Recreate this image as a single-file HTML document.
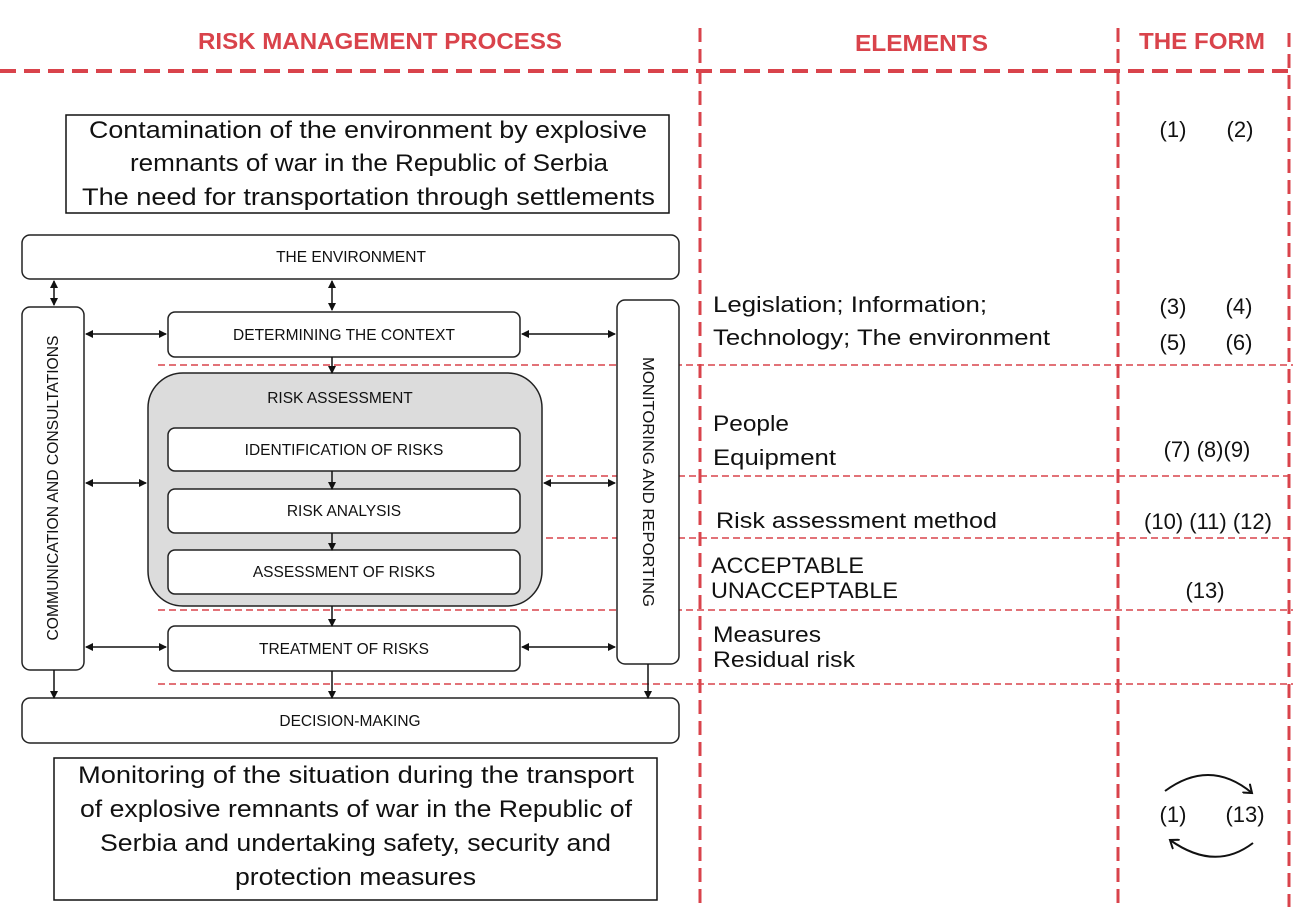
<!DOCTYPE html>
<html><head><meta charset="utf-8"><style>
html,body{margin:0;padding:0;background:#fff;}
svg{display:block;}
.r{fill:#d9434b;font-family:"Liberation Sans",sans-serif;font-weight:bold;font-size:23px;}
.b{fill:#111;font-family:"Liberation Sans",sans-serif;font-size:24px;}
.s{fill:#111;font-family:"Liberation Sans",sans-serif;font-size:15.5px;}
.e{fill:#111;font-family:"Liberation Sans",sans-serif;font-size:22px;}
</style></head><body>
<svg width="1293" height="907" viewBox="0 0 1293 907" xmlns="http://www.w3.org/2000/svg">
<defs>
<marker id="a" markerWidth="8" markerHeight="8" refX="7" refY="4" orient="auto" markerUnits="userSpaceOnUse"><path d="M0,0 L8,4 L0,8 z" fill="#111"/></marker>
<marker id="s" markerWidth="8" markerHeight="8" refX="1" refY="4" orient="auto" markerUnits="userSpaceOnUse"><path d="M8,0 L0,4 L8,8 z" fill="#111"/></marker>
<marker id="c" markerWidth="12" markerHeight="12" refX="8" refY="6" orient="auto" markerUnits="userSpaceOnUse"><path d="M0,0 L8,6 L0,12" fill="none" stroke="#111" stroke-width="2"/></marker>
</defs>
<text class="r" x="198" y="49" textLength="364" lengthAdjust="spacingAndGlyphs">RISK MANAGEMENT PROCESS</text>
<text class="r" x="855" y="51" textLength="133" lengthAdjust="spacingAndGlyphs">ELEMENTS</text>
<text class="r" x="1139" y="49" textLength="126" lengthAdjust="spacingAndGlyphs">THE FORM</text>
<g stroke="#d9434b" fill="none">
<line x1="0" y1="71" x2="1293" y2="71" stroke-width="4" stroke-dasharray="16,8"/>
<line x1="700" y1="28" x2="700" y2="907" stroke-width="3" stroke-dasharray="14,7"/>
<line x1="1118" y1="28" x2="1118" y2="907" stroke-width="3" stroke-dasharray="14,7"/>
<line x1="1289" y1="33" x2="1289" y2="907" stroke-width="3" stroke-dasharray="14,7"/>
<g stroke-width="1.5" stroke-dasharray="7,4">
<line x1="158" y1="365" x2="1293" y2="365"/>
<line x1="150" y1="476" x2="1293" y2="476"/>
<line x1="150" y1="538" x2="1293" y2="538"/>
<line x1="158" y1="610" x2="1293" y2="610"/>
<line x1="158" y1="684" x2="1293" y2="684"/>
</g>
</g>
<rect x="66" y="115" width="603" height="98" fill="#fff" stroke="#111" stroke-width="1.5"/>
<text class="b" x="89" y="138" textLength="558" lengthAdjust="spacingAndGlyphs">Contamination of the environment by explosive</text>
<text class="b" x="130" y="171" textLength="478" lengthAdjust="spacingAndGlyphs">remnants of war in the Republic of Serbia</text>
<text class="b" x="82" y="205" textLength="573" lengthAdjust="spacingAndGlyphs">The need for transportation through settlements</text>
<g stroke="#222" stroke-width="1.5" fill="#fff">
<rect x="22" y="235" width="657" height="44" rx="8"/>
<rect x="22" y="307" width="62" height="363" rx="8"/>
<rect x="617" y="300" width="62" height="364" rx="8"/>
<rect x="168" y="312" width="352" height="45" rx="7"/>
<rect x="148" y="373" width="394" height="233" rx="35" fill="#dcdcdc"/>
<rect x="168" y="428" width="352" height="43" rx="7"/>
<rect x="168" y="489" width="352" height="44" rx="7"/>
<rect x="168" y="550" width="352" height="44" rx="7"/>
<rect x="168" y="626" width="352" height="45" rx="7"/>
<rect x="22" y="698" width="657" height="45" rx="8"/>
</g>
<g stroke="#111" stroke-width="1.5" fill="none">
<line x1="54" y1="281" x2="54" y2="305" marker-start="url(#s)" marker-end="url(#a)"/>
<line x1="332" y1="281" x2="332" y2="310" marker-start="url(#s)" marker-end="url(#a)"/>
<line x1="86" y1="334" x2="166" y2="334" marker-start="url(#s)" marker-end="url(#a)"/>
<line x1="522" y1="334" x2="615" y2="334" marker-start="url(#s)" marker-end="url(#a)"/>
<line x1="86" y1="483" x2="146" y2="483" marker-start="url(#s)" marker-end="url(#a)"/>
<line x1="544" y1="483" x2="615" y2="483" marker-start="url(#s)" marker-end="url(#a)"/>
<line x1="86" y1="647" x2="166" y2="647" marker-start="url(#s)" marker-end="url(#a)"/>
<line x1="522" y1="647" x2="615" y2="647" marker-start="url(#s)" marker-end="url(#a)"/>
<line x1="332" y1="357" x2="332" y2="373" marker-end="url(#a)"/>
<line x1="332" y1="471" x2="332" y2="489" marker-end="url(#a)"/>
<line x1="332" y1="533" x2="332" y2="550" marker-end="url(#a)"/>
<line x1="332" y1="606" x2="332" y2="626" marker-end="url(#a)"/>
<line x1="332" y1="671" x2="332" y2="698" marker-end="url(#a)"/>
<line x1="54" y1="670" x2="54" y2="698" marker-end="url(#a)"/>
<line x1="648" y1="664" x2="648" y2="698" marker-end="url(#a)"/>
</g>
<text class="s" x="351" y="262" text-anchor="middle">THE ENVIRONMENT</text>
<text class="s" x="344" y="340" text-anchor="middle">DETERMINING THE CONTEXT</text>
<text class="s" x="340" y="403" text-anchor="middle">RISK ASSESSMENT</text>
<text class="s" x="344" y="455" text-anchor="middle">IDENTIFICATION OF RISKS</text>
<text class="s" x="344" y="516" text-anchor="middle">RISK ANALYSIS</text>
<text class="s" x="344" y="577" text-anchor="middle">ASSESSMENT OF RISKS</text>
<text class="s" x="344" y="654" text-anchor="middle">TREATMENT OF RISKS</text>
<text class="s" x="350" y="726" text-anchor="middle">DECISION-MAKING</text>
<text class="s" transform="translate(58,488) rotate(-90)" text-anchor="middle" textLength="305" lengthAdjust="spacingAndGlyphs">COMMUNICATION AND CONSULTATIONS</text>
<text class="s" transform="translate(643,482) rotate(90)" text-anchor="middle" textLength="250" lengthAdjust="spacingAndGlyphs">MONITORING AND REPORTING</text>
<rect x="54" y="758" width="603" height="142" fill="#fff" stroke="#111" stroke-width="1.5"/>
<text class="b" x="78" y="783" textLength="556" lengthAdjust="spacingAndGlyphs">Monitoring of the situation during the transport</text>
<text class="b" x="80" y="817" textLength="552" lengthAdjust="spacingAndGlyphs">of explosive remnants of war in the Republic of</text>
<text class="b" x="100" y="851" textLength="511" lengthAdjust="spacingAndGlyphs">Serbia and undertaking safety, security and</text>
<text class="b" x="235" y="885" textLength="241" lengthAdjust="spacingAndGlyphs">protection measures</text>
<text class="e" x="713" y="312" textLength="274" lengthAdjust="spacingAndGlyphs">Legislation; Information;</text>
<text class="e" x="713" y="345" textLength="337" lengthAdjust="spacingAndGlyphs">Technology; The environment</text>
<text class="e" x="713" y="431" textLength="76" lengthAdjust="spacingAndGlyphs">People</text>
<text class="e" x="713" y="465" textLength="123" lengthAdjust="spacingAndGlyphs">Equipment</text>
<text class="e" x="716" y="528" textLength="281" lengthAdjust="spacingAndGlyphs">Risk assessment method</text>
<text class="e" x="711" y="573" textLength="153" lengthAdjust="spacingAndGlyphs">ACCEPTABLE</text>
<text class="e" x="711" y="598" textLength="187" lengthAdjust="spacingAndGlyphs">UNACCEPTABLE</text>
<text class="e" x="713" y="642" textLength="108" lengthAdjust="spacingAndGlyphs">Measures</text>
<text class="e" x="713" y="667" textLength="142" lengthAdjust="spacingAndGlyphs">Residual risk</text>
<text class="e" x="1173" y="137" text-anchor="middle">(1)</text>
<text class="e" x="1240" y="137" text-anchor="middle">(2)</text>
<text class="e" x="1173" y="314" text-anchor="middle">(3)</text>
<text class="e" x="1239" y="314" text-anchor="middle">(4)</text>
<text class="e" x="1173" y="350" text-anchor="middle">(5)</text>
<text class="e" x="1239" y="350" text-anchor="middle">(6)</text>
<text class="e" x="1207" y="457" text-anchor="middle">(7) (8)(9)</text>
<text class="e" x="1208" y="529" text-anchor="middle">(10) (11) (12)</text>
<text class="e" x="1205" y="598" text-anchor="middle">(13)</text>
<text class="e" x="1173" y="822" text-anchor="middle">(1)</text>
<text class="e" x="1245" y="822" text-anchor="middle">(13)</text>
<g stroke="#111" stroke-width="2" fill="none">
<path d="M1165,791 Q1210,758 1252,793" marker-end="url(#c)"/>
<path d="M1253,843 Q1215,872 1170,840" marker-end="url(#c)"/>
</g>
</svg>
</body></html>
